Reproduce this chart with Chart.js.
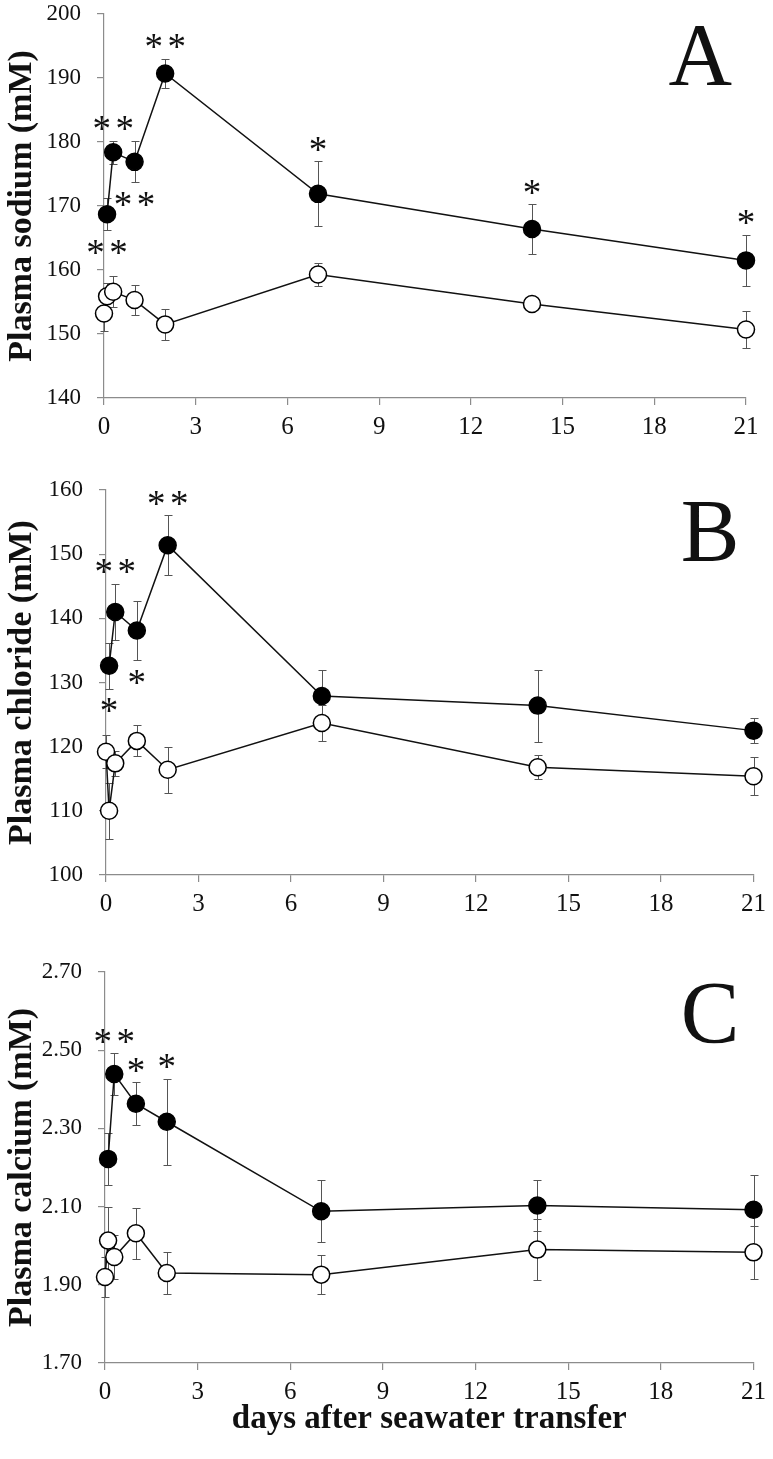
<!DOCTYPE html>
<html>
<head>
<meta charset="utf-8">
<script src="https://cdn.jsdelivr.net/npm/chart.js@4.4.1/dist/chart.umd.min.js"></script>
<style>
  body { margin: 0; background: #fff; width: 773px; height: 1459px; position: relative; overflow: hidden; }
  .panel { position: absolute; left: 0; width: 773px; }
</style>
</head>
<body>
<div class="panel" style="top:-16px;height:471px"><canvas id="chartA" width="773" height="471"></canvas></div>
<div class="panel" style="top:460px;height:455px"><canvas id="chartB" width="773" height="455"></canvas></div>
<div class="panel" style="top:940px;height:519px"><canvas id="chartC" width="773" height="519"></canvas></div>
<script>
// days after transfer
const xTicks = [0, 3, 6, 9, 12, 15, 18, 21];
const fwDays = [0, 0.1, 0.3, 1, 2, 7, 14, 21];
const swDays = [0.1, 0.3, 1, 2, 7, 14, 21];

// A - sodium
const sodiumTicks = [140, 150, 160, 170, 180, 190, 200];
const sodiumFW = [153.2, 155.9, 156.6, 155.3, 151.5, 159.3, 154.7, 150.7];
const sodiumFWErr = [2.7, 2.0, 2.4, 2.3, 2.4, 1.8, 0.6, 2.9];
const sodiumSW = [168.7, 178.4, 176.9, 190.7, 171.9, 166.4, 161.5];
const sodiumSWErr = [2.5, 1.8, 3.2, 2.3, 5.1, 3.9, 4.0];
const sodiumStars = [2, 2, 2, 2, 1, 1, 1];
const sodiumStarSide = ['below', 'above', 'below', 'above', 'above', 'above', 'above'];

// B - chloride
const chlorideTicks = [100, 110, 120, 130, 140, 150, 160];
const chlorideFW = [119.2, 110.0, 117.4, 120.9, 116.4, 123.7, 116.8, 115.4];
const chlorideFWErr = [2.6, 4.4, 2.0, 2.4, 3.6, 2.8, 1.9, 3.0];
const chlorideSW = [132.6, 141.0, 138.1, 151.4, 127.9, 126.4, 122.5];
const chlorideSWErr = [3.6, 4.4, 4.6, 4.7, 4.1, 5.6, 2.0];
const chlorideStars = [1, 2, 1, 2, 0, 0, 0];
const chlorideStarSide = ['below', 'above', 'below', 'above', 'above', 'above', 'above'];

// C - calcium
const calciumTicks = [1.70, 1.90, 2.10, 2.30, 2.50, 2.70];
const calciumFW = [1.920, 2.013, 1.971, 2.032, 1.930, 1.926, 1.990, 1.983];
const calciumFWErr = [0.052, 0.085, 0.057, 0.065, 0.053, 0.050, 0.078, 0.067];
const calciumSW = [2.222, 2.439, 2.363, 2.317, 2.088, 2.103, 2.092];
const calciumSWErr = [0.067, 0.053, 0.055, 0.110, 0.079, 0.065, 0.090];
const calciumStars = [0, 2, 1, 1, 0, 0, 0];
const calciumStarSide = ['above', 'above', 'above', 'above', 'above', 'above', 'above'];

Chart.defaults.font.family = '"Liberation Serif", "Times New Roman", serif';
Chart.defaults.color = '#111';

// error bars behind the markers, asterisks and panel letter on top
const extras = {
  id: 'extras',
  beforeDatasetsDraw(chart) {
    const { ctx, scales: { y } } = chart;
    ctx.save();
    ctx.strokeStyle = '#555';
    ctx.lineWidth = 1;
    chart.data.datasets.forEach((ds, i) => {
      chart.getDatasetMeta(i).data.forEach((pt, j) => {
        const e = ds.errors[j];
        if (!e) return;
        const v = ds.data[j].y;
        const top = Math.round(y.getPixelForValue(v + e)) + 0.5;
        const bot = Math.round(y.getPixelForValue(v - e)) + 0.5;
        const x = Math.round(pt.x) + 0.5;
        ctx.beginPath();
        ctx.moveTo(x, top); ctx.lineTo(x, bot);
        ctx.moveTo(x - 4, top); ctx.lineTo(x + 4, top);
        ctx.moveTo(x - 4, bot); ctx.lineTo(x + 4, bot);
        ctx.stroke();
      });
    });
    ctx.restore();
  },
  afterDatasetsDraw(chart, args, opts) {
    const { ctx, chartArea, scales: { y } } = chart;
    ctx.save();
    ctx.fillStyle = '#111';
    ctx.textAlign = 'center';
    ctx.textBaseline = 'alphabetic';
    ctx.font = '37px "Liberation Serif"';
    const m = ctx.measureText('*');
    const mid = (m.actualBoundingBoxAscent - m.actualBoundingBoxDescent) / 2;
    chart.data.datasets.forEach((ds, i) => {
      if (!ds.stars) return;
      chart.getDatasetMeta(i).data.forEach((pt, j) => {
        const n = ds.stars[j];
        if (!n) return;
        const v = ds.data[j].y, e = ds.errors[j];
        const cy = ds.starSide[j] === 'below'
          ? y.getPixelForValue(v - e) + 17
          : y.getPixelForValue(v + e) - 17;
        const xs = n === 2 ? [pt.x - 11.5, pt.x + 11.5] : [pt.x];
        xs.forEach(sx => ctx.fillText('*', sx, cy + mid));
      });
    });
    // panel letter
    ctx.font = '88px "Liberation Serif"';
    ctx.textAlign = 'right';
    ctx.fillText(opts.letter, chartArea.right - 14, chartArea.top + 70);
    ctx.restore();
  }
};

function makePanel(id, cfg) {
  const ds = [
    {
      data: fwDays.map((d, i) => ({ x: d, y: cfg.fw[i] })),
      errors: cfg.fwErr,
      pointBackgroundColor: '#fff'
    },
    {
      data: swDays.map((d, i) => ({ x: d, y: cfg.sw[i] })),
      errors: cfg.swErr,
      stars: cfg.stars,
      starSide: cfg.starSide,
      pointBackgroundColor: '#000'
    }
  ].map(d => Object.assign(d, {
    borderColor: '#111',
    borderWidth: 1.5,
    pointBorderColor: '#000',
    pointBorderWidth: 1.5,
    pointRadius: 8.5,
    tension: 0,
    clip: false
  }));

  new Chart(document.getElementById(id), {
    type: 'line',
    data: { datasets: ds },
    options: {
      responsive: false,
      animation: false,
      events: [],
      layout: { padding: { top: cfg.padTop, right: cfg.padRight, left: 0, bottom: 0 } },
      plugins: {
        legend: { display: false },
        tooltip: { enabled: false },
        extras: { letter: cfg.letter }
      },
      scales: {
        x: {
          type: 'linear',
          min: 0,
          max: 21,
          afterBuildTicks: s => { s.ticks = xTicks.map(v => ({ value: v })); },
          afterFit: s => { s.height = cfg.xHeight; },
          grid: { drawOnChartArea: false, drawTicks: true, tickLength: 7, color: '#8c8c8c', lineWidth: 1.2 },
          border: { display: true, color: '#8c8c8c', width: 1.2 },
          ticks: { font: { size: 25 }, padding: 7, color: '#111', maxRotation: 0 },
          title: cfg.xTitle
            ? { display: true, text: cfg.xTitle, font: { size: 33, weight: 'bold' }, color: '#111', padding: { top: 0, bottom: 20 } }
            : { display: false }
        },
        y: {
          min: cfg.ticks[0],
          max: cfg.ticks[cfg.ticks.length - 1],
          afterBuildTicks: s => { s.ticks = cfg.ticks.map(v => ({ value: v })); },
          afterFit: s => { s.width = cfg.yWidth; },
          grid: { drawOnChartArea: false, drawTicks: true, tickLength: 7, color: '#8c8c8c', lineWidth: 1.2 },
          border: { display: true, color: '#8c8c8c', width: 1.2 },
          ticks: {
            font: { size: 23 },
            padding: 16,
            color: '#111',
            callback: v => cfg.decimals ? Number(v).toFixed(cfg.decimals) : v
          },
          title: { display: true, text: cfg.yTitle, font: { size: 34, weight: 'bold' }, color: '#111', padding: { top: 2, bottom: 0 } }
        }
      }
    },
    plugins: [extras]
  });
}

makePanel('chartA', {
  letter: 'A', yTitle: 'Plasma sodium (mM)', ticks: sodiumTicks,
  fw: sodiumFW, fwErr: sodiumFWErr, sw: sodiumSW, swErr: sodiumSWErr,
  stars: sodiumStars, starSide: sodiumStarSide,
  padTop: 30, padRight: 27, yWidth: 104, xHeight: 57
});

makePanel('chartB', {
  letter: 'B', yTitle: 'Plasma chloride (mM)', ticks: chlorideTicks,
  fw: chlorideFW, fwErr: chlorideFWErr, sw: chlorideSW, swErr: chlorideSWErr,
  stars: chlorideStars, starSide: chlorideStarSide,
  padTop: 30, padRight: 16, yWidth: 106, xHeight: 40
});

makePanel('chartC', {
  letter: 'C', yTitle: 'Plasma calcium (mM)', ticks: calciumTicks, decimals: 2,
  fw: calciumFW, fwErr: calciumFWErr, sw: calciumSW, swErr: calciumSWErr,
  stars: calciumStars, starSide: calciumStarSide,
  padTop: 32, padRight: 17, yWidth: 105, xHeight: 96,
  xTitle: 'days after seawater transfer'
});
</script>
</body>
</html>
